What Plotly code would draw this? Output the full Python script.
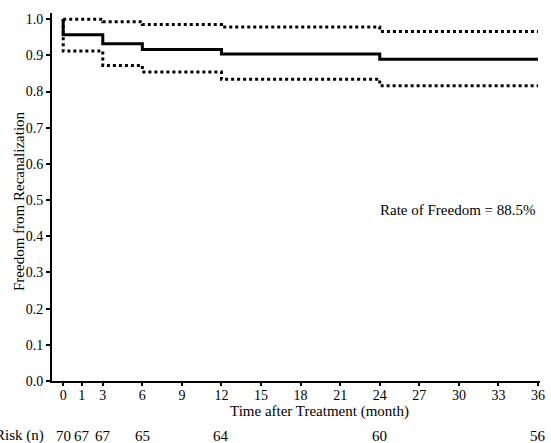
import plotly.graph_objects as go

# Kaplan-Meier estimate (step points)
times = [0, 0, 3, 6, 12, 24, 36]
survival = [1.0, 0.957, 0.932, 0.916, 0.904, 0.889, 0.889]
upper_ci = [1.0, 1.0, 0.993, 0.985, 0.978, 0.966, 0.966]
lower_ci = [1.0, 0.912, 0.872, 0.854, 0.834, 0.816, 0.816]

# x-axis ticks (the "1" tick sits slightly right of linear position in the original)
tick_positions = [0, 1.4, 3, 6, 9, 12, 15, 18, 21, 24, 27, 30, 33, 36]
tick_labels = ["0", "1", "3", "6", "9", "12", "15", "18", "21", "24", "27", "30", "33", "36"]
y_ticks = [0, 0.1, 0.2, 0.3, 0.4, 0.5, 0.6, 0.7, 0.8, 0.9, 1.0]

# Number at risk
risk_positions = [0, 1.4, 3, 6, 12, 24, 36]
risk_counts = [70, 67, 67, 65, 64, 60, 56]

FONT = "Liberation Serif, Times New Roman, serif"

fig = go.Figure()
for ys, dash in [(upper_ci, "dot"), (lower_ci, "dot"), (survival, "solid")]:
    fig.add_trace(go.Scatter(x=times, y=ys, mode="lines", line_shape="hv",
                             line=dict(color="black", width=3, dash=dash),
                             showlegend=False, hoverinfo="skip"))

fig.update_layout(
    width=551, height=443,
    margin=dict(l=52, r=6, t=13, b=62),
    plot_bgcolor="white", paper_bgcolor="white",
    font=dict(family=FONT, size=14, color="black"),
    xaxis=dict(range=[-0.85, 36.15], tickvals=tick_positions, ticktext=tick_labels,
               showgrid=False, zeroline=False, showline=True, linecolor="black", linewidth=2,
               ticks="outside", ticklen=3, tickwidth=2, tickcolor="black",
               ticklabelstandoff=-3,
               tickfont=dict(family=FONT, size=14, color="black")),
    yaxis=dict(range=[0, 1.017], tickvals=y_ticks, tickformat=".1f",
               showgrid=False, zeroline=False, showline=True, linecolor="black", linewidth=2,
               ticks="outside", ticklen=4, tickwidth=2, tickcolor="black",
               tickfont=dict(family=FONT, size=14, color="black")),
)

fig.add_annotation(text="Time after Treatment (month)", xref="paper", yref="paper",
                   x=0.548, y=-0.083, xanchor="center", yanchor="middle", showarrow=False,
                   font=dict(family=FONT, size=15, color="black"))
fig.add_annotation(text="Freedom from Recanalization", xref="paper", yref="paper",
                   x=-0.069, y=0.49, xanchor="center", yanchor="middle", showarrow=False,
                   textangle=-90, font=dict(family=FONT, size=15, color="black"))
fig.add_annotation(text="Rate of Freedom = 88.5%", xref="paper", yref="paper",
                   x=0.996, y=0.465, xanchor="right", yanchor="middle", showarrow=False,
                   font=dict(family=FONT, size=15, color="black"))
fig.add_annotation(text="Risk (n)", xref="paper", yref="paper",
                   x=-0.012, y=-0.149, xanchor="right", yanchor="middle", showarrow=False,
                   font=dict(family=FONT, size=15, color="black"))
for xp, n in zip(risk_positions, risk_counts):
    fig.add_annotation(text=str(n), xref="x", yref="paper", x=xp, y=-0.149,
                       xanchor="center", yanchor="middle", showarrow=False,
                       font=dict(family=FONT, size=15, color="black"))

# remove the default 8px page margin so the figure fills the window exactly
fig.write_html("out.html", config={"displayModeBar": False},
               post_script="document.body.style.margin='0';")
